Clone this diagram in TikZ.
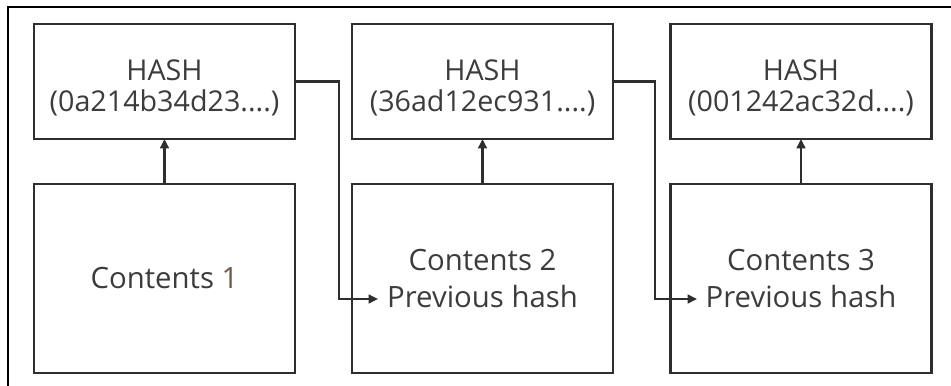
\documentclass[tikz,border=0pt]{standalone}
\usepackage{fontspec}
\setmainfont{Open Sans}
\usetikzlibrary{arrows.meta}
\definecolor{boxline}{HTML}{2E2E2E}
\definecolor{txt}{HTML}{3C3C3C}
\definecolor{warm}{HTML}{6E5A48}
\tikzset{
  hashbox/.style={draw=boxline, line width=2.2pt, minimum width=195.75pt,
    minimum height=86.25pt, inner sep=0pt, outer sep=0pt, align=center,
    text=txt, font=\fontsize{21.5}{23}\selectfont},
  contentbox/.style={hashbox, minimum height=141.75pt,
    font=\fontsize{22}{28}\selectfont},
  link/.style={draw=boxline, line width=2.2pt,
    -{Triangle[length=7pt,width=6.5pt]}},
  frameline/.style={draw=black, line width=1.4pt}
}
\begin{document}
\begin{tikzpicture}[x=0.75pt,y=-0.75pt]
  \useasboundingbox (0,0) rectangle (951,386);
  % outer frame (top and left edges)
  \coordinate (fa) at (8,386);
  \coordinate (fb) at (8,7);
  \coordinate (fc) at (951,7);
  \draw[frameline] (fa) -- (fb) -- (fc);

  % hash boxes
  \node[hashbox] (h1) at (164.5,81.5) {\rule{0pt}{25pt}HASH\\(0a214b34d23....)};
  \node[hashbox] (h2) at (482.5,81.5) {\rule{0pt}{25pt}HASH\\(36ad12ec931....)};
  \node[hashbox] (h3) at (801,81.5)   {\rule{0pt}{25pt}HASH\\(001242ac32d....)};

  % content boxes
  \node[contentbox] (c1) at (164.5,278.5) {Contents {\color{warm}1}};
  \node[contentbox] (c2) at (482.5,278.5) {Contents 2\\Previous hash};
  \node[contentbox] (c3) at (801,278.5)   {Contents 3\\Previous hash};

  % each block's contents feed its hash
  \draw[link] (c1.north) -- (h1.south);
  \draw[link] (c2.north) -- (h2.south);
  \draw[link] (c3.north) -- (h3.south);

  % hash of one block carried into the next block
  \coordinate (k1) at (339,299);
  \coordinate (t1) at (378,299);
  \coordinate (k2) at (655,299);
  \coordinate (t2) at (697,299);
  \draw[link] (h1.east) -| (k1) -- (t1);
  \draw[link] (h2.east) -| (k2) -- (t2);
\end{tikzpicture}
\end{document}
